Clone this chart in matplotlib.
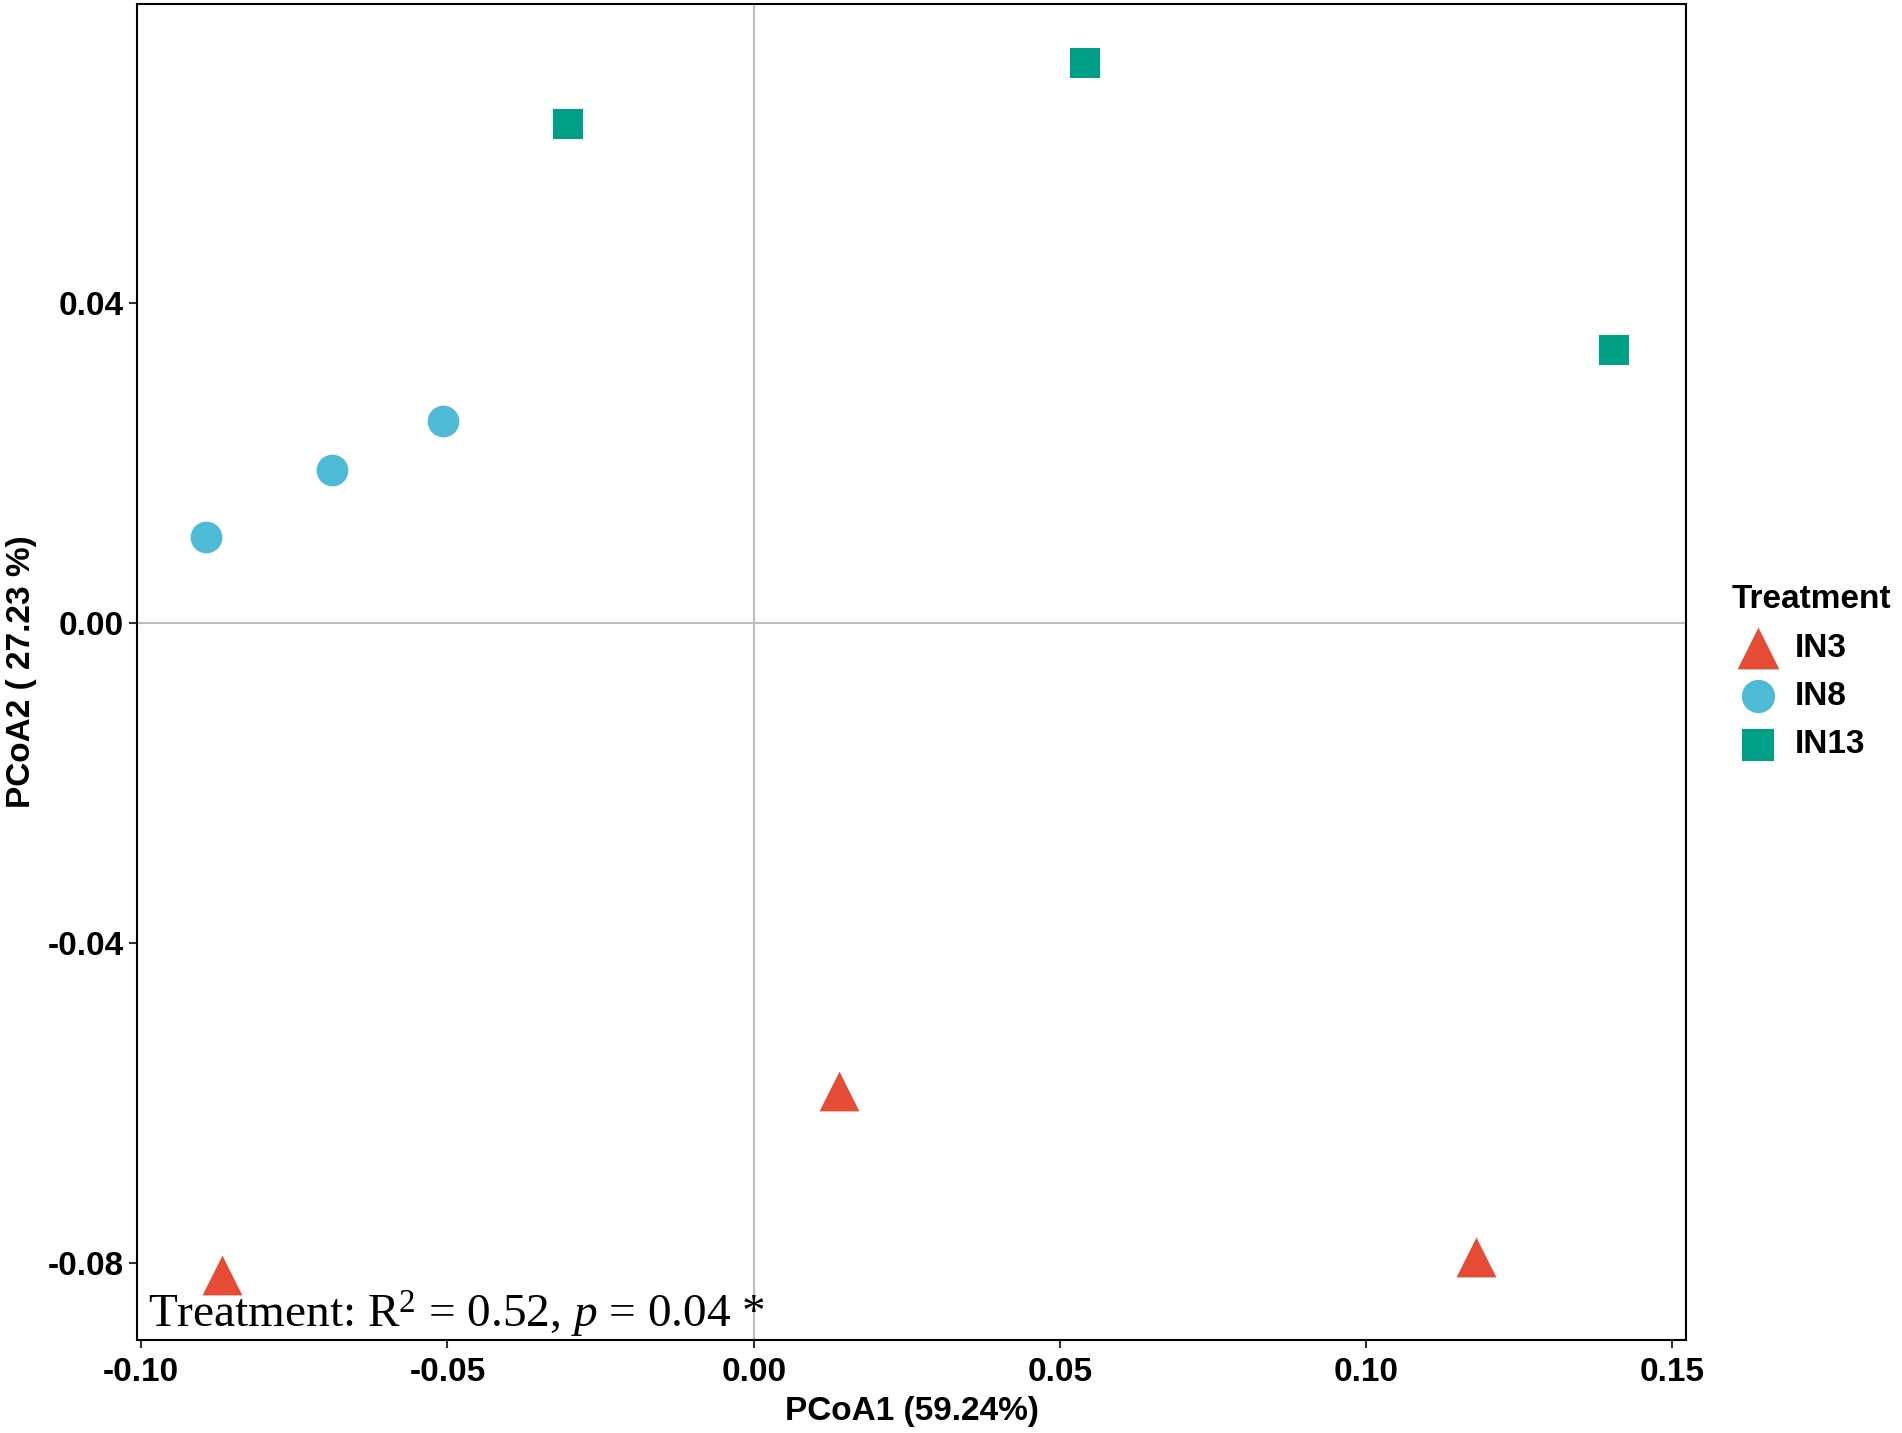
import matplotlib
matplotlib.use("Agg")
import matplotlib.pyplot as plt

plt.rcParams['font.family'] = ['Liberation Sans', 'DejaVu Sans']
plt.rcParams['mathtext.fontset'] = 'custom'
plt.rcParams['mathtext.rm'] = 'Liberation Serif'
plt.rcParams['mathtext.it'] = 'Liberation Serif:italic'

# PCoA scores
groups = ["IN3", "IN8", "IN13"]
in3_x = [-0.0868, 0.0139, 0.1179]
in3_y = [-0.0815, -0.0585, -0.0792]
in8_x = [-0.0894, -0.0688, -0.0507]
in8_y = [0.0108, 0.0192, 0.0253]
in13_x = [-0.0303, 0.0541, 0.1405]
in13_y = [0.0624, 0.0700, 0.0341]

xticks = [-0.10, -0.05, 0.00, 0.05, 0.10, 0.15]
yticks = [-0.08, -0.04, 0.00, 0.04]

colors = ["#E64B35", "#4DBBD5", "#00A087"]
markers = ["^", "o", "s"]
sizes = [820, 520, 480]

fig = plt.figure(figsize=(19.02, 14.33), dpi=100)
ax = fig.add_axes([0.0720, 0.0649, 0.8144, 0.9323])

ax.axhline(0, color="#BEBEBE", lw=1.5, zorder=1)
ax.axvline(0, color="#BEBEBE", lw=1.5, zorder=1)

data = [(in3_x, in3_y), (in8_x, in8_y), (in13_x, in13_y)]
for (xs, ys), g, c, m, s in zip(data, groups, colors, markers, sizes):
    ax.scatter(xs, ys, c=c, marker=m, s=s, label=g, linewidths=0, zorder=3)

ax.set_xlim(-0.1007, 0.1522)
ax.set_ylim(-0.0896, 0.0774)
ax.set_xticks(xticks)
ax.set_xticklabels([f"{v:.2f}" for v in xticks])
ax.set_yticks(yticks)
ax.set_yticklabels([f"{v:.2f}" for v in yticks])
ax.tick_params(labelsize=24, width=1.5, length=6, color="#333333")
ax.tick_params(axis="x", pad=6)
for lab in ax.get_xticklabels() + ax.get_yticklabels():
    lab.set_fontweight("bold")
for sp in ax.spines.values():
    sp.set_linewidth(1.5)

ax.set_xlabel("PCoA1 (59.24%)", fontsize=24, fontweight="bold", labelpad=6)
ax.set_ylabel("PCoA2 ( 27.23 %)", fontsize=24, fontweight="bold", labelpad=8)

ax.text(-0.0989, -0.0881, r"Treatment: R$^2$ = 0.52, $p$ = 0.04 *",
        family="Liberation Serif", fontsize=34, va="baseline", ha="left")

leg = ax.legend(loc="upper left", bbox_to_anchor=(0.9035, 0.6015),
                bbox_transform=fig.transFigure, frameon=False,
                title="Treatment", fontsize=24, title_fontsize=24,
                handletextpad=0.3, labelspacing=0.52, borderaxespad=0,
                markerscale=1.05, handlelength=1.6)
leg._legend_box.align = "left"
leg.get_title().set_fontweight("bold")
for t in leg.get_texts():
    t.set_fontweight("bold")

fig.savefig("out.png", dpi=100)
